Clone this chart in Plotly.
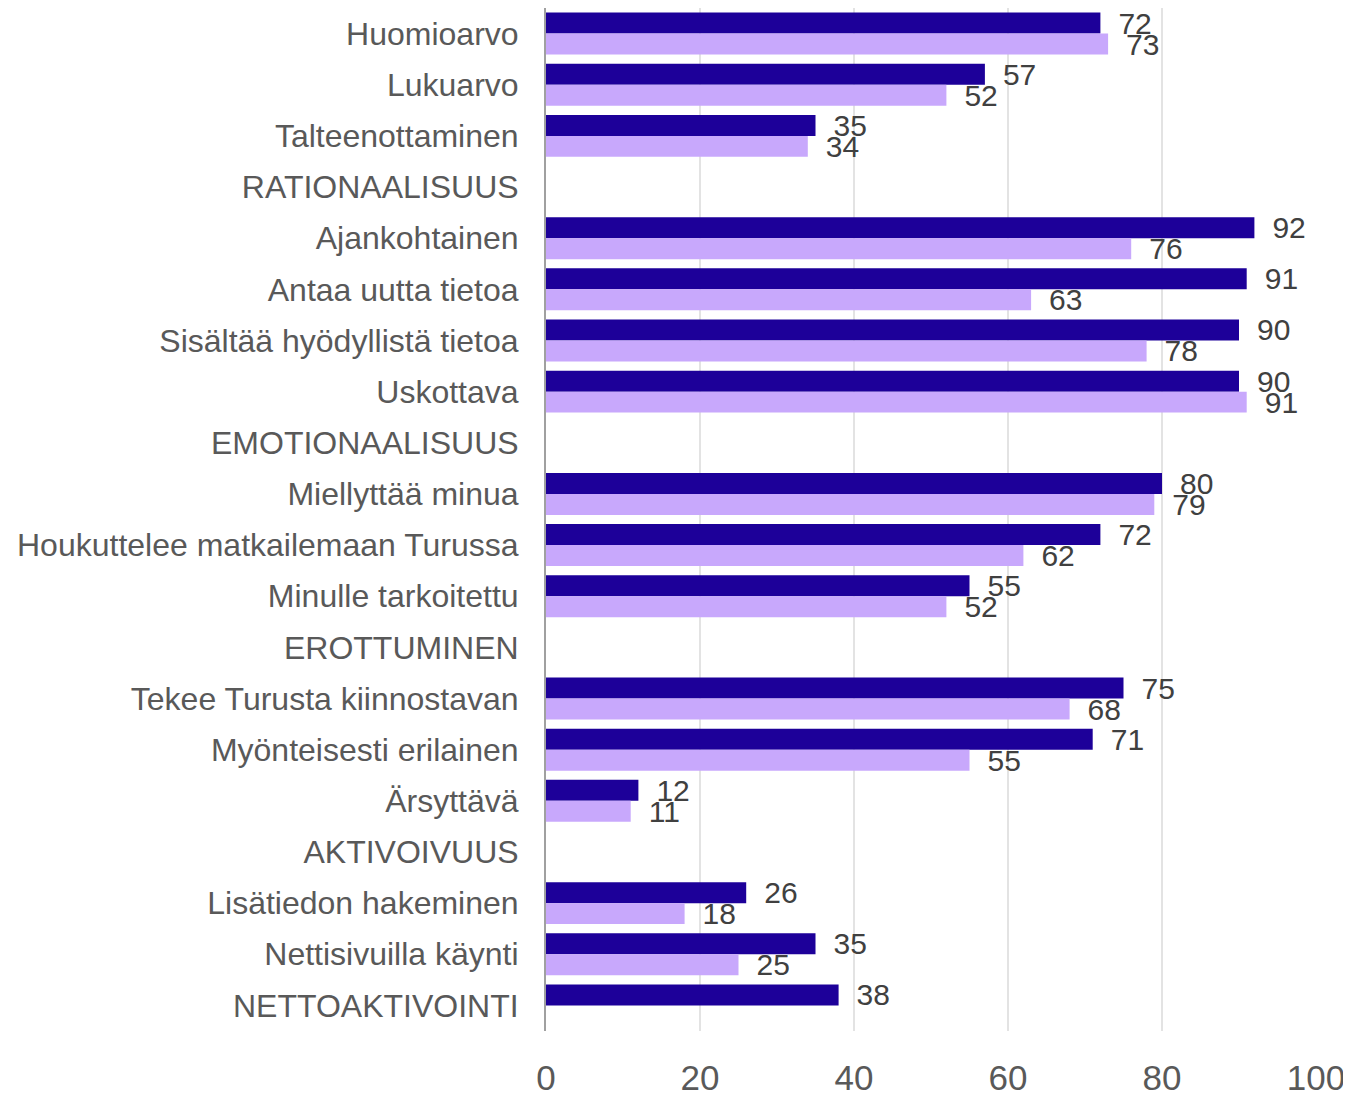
import plotly.graph_objects as go

categories = [
    'Huomioarvo', 'Lukuarvo', 'Talteenottaminen', 'RATIONAALISUUS',
    'Ajankohtainen', 'Antaa uutta tietoa', 'Sisältää hyödyllistä tietoa', 'Uskottava',
    'EMOTIONAALISUUS', 'Miellyttää minua', 'Houkuttelee matkailemaan Turussa',
    'Minulle tarkoitettu', 'EROTTUMINEN', 'Tekee Turusta kiinnostavan',
    'Myönteisesti erilainen', 'Ärsyttävä', 'AKTIVOIVUUS', 'Lisätiedon hakeminen',
    'Nettisivuilla käynti', 'NETTOAKTIVOINTI',
]
series_dark = [72, 57, 35, None, 92, 91, 90, 90, None, 80, 72, 55, None, 75, 71, 12, None, 26, 35, 38]
series_light = [73, 52, 34, None, 76, 63, 78, 91, None, 79, 62, 52, None, 68, 55, 11, None, 18, 25, None]
x_ticks = [0, 20, 40, 60, 80, 100]

FONT = 'Arial, "Liberation Sans", sans-serif'

fig = go.Figure()
for name, values, color in [('Sarja 1', series_dark, '#1D0099'),
                            ('Sarja 2', series_light, '#C8A8FC')]:
    fig.add_trace(go.Bar(
        name=name,
        orientation='h',
        x=values,
        y=categories,
        marker=dict(color=color, line=dict(width=0)),
        text=values,
        texttemplate='\u2002%{x}',
        textposition='outside',
        constraintext='none',
        cliponaxis=False,
        textfont=dict(family=FONT, size=30, color='#404040'),
    ))

# page body has an 8px margin, so the figure is sized to the remaining window
fig.update_layout(
    width=1343,
    height=1085,
    barmode='group',
    bargap=0.18,
    bargroupgap=0,
    showlegend=False,
    plot_bgcolor='white',
    paper_bgcolor='white',
    margin=dict(l=538, r=35, t=0, b=62, autoexpand=False),
    font=dict(family=FONT, color='#595959'),
    xaxis=dict(
        range=[0, 100],
        tickvals=x_ticks,
        automargin=False,
        showgrid=True,
        gridcolor='#E3E3E3',
        gridwidth=2,
        zeroline=False,
        showline=False,
        ticklabelstandoff=23,
        tickfont=dict(family=FONT, size=35, color='#595959'),
    ),
    yaxis=dict(
        autorange='reversed',
        automargin=False,
        showline=True,
        linecolor='#A0A0A0',
        linewidth=2,
        showgrid=False,
        ticklabelstandoff=19,
        tickfont=dict(family=FONT, size=32, color='#595959'),
    ),
)

fig.write_html('out.html')
